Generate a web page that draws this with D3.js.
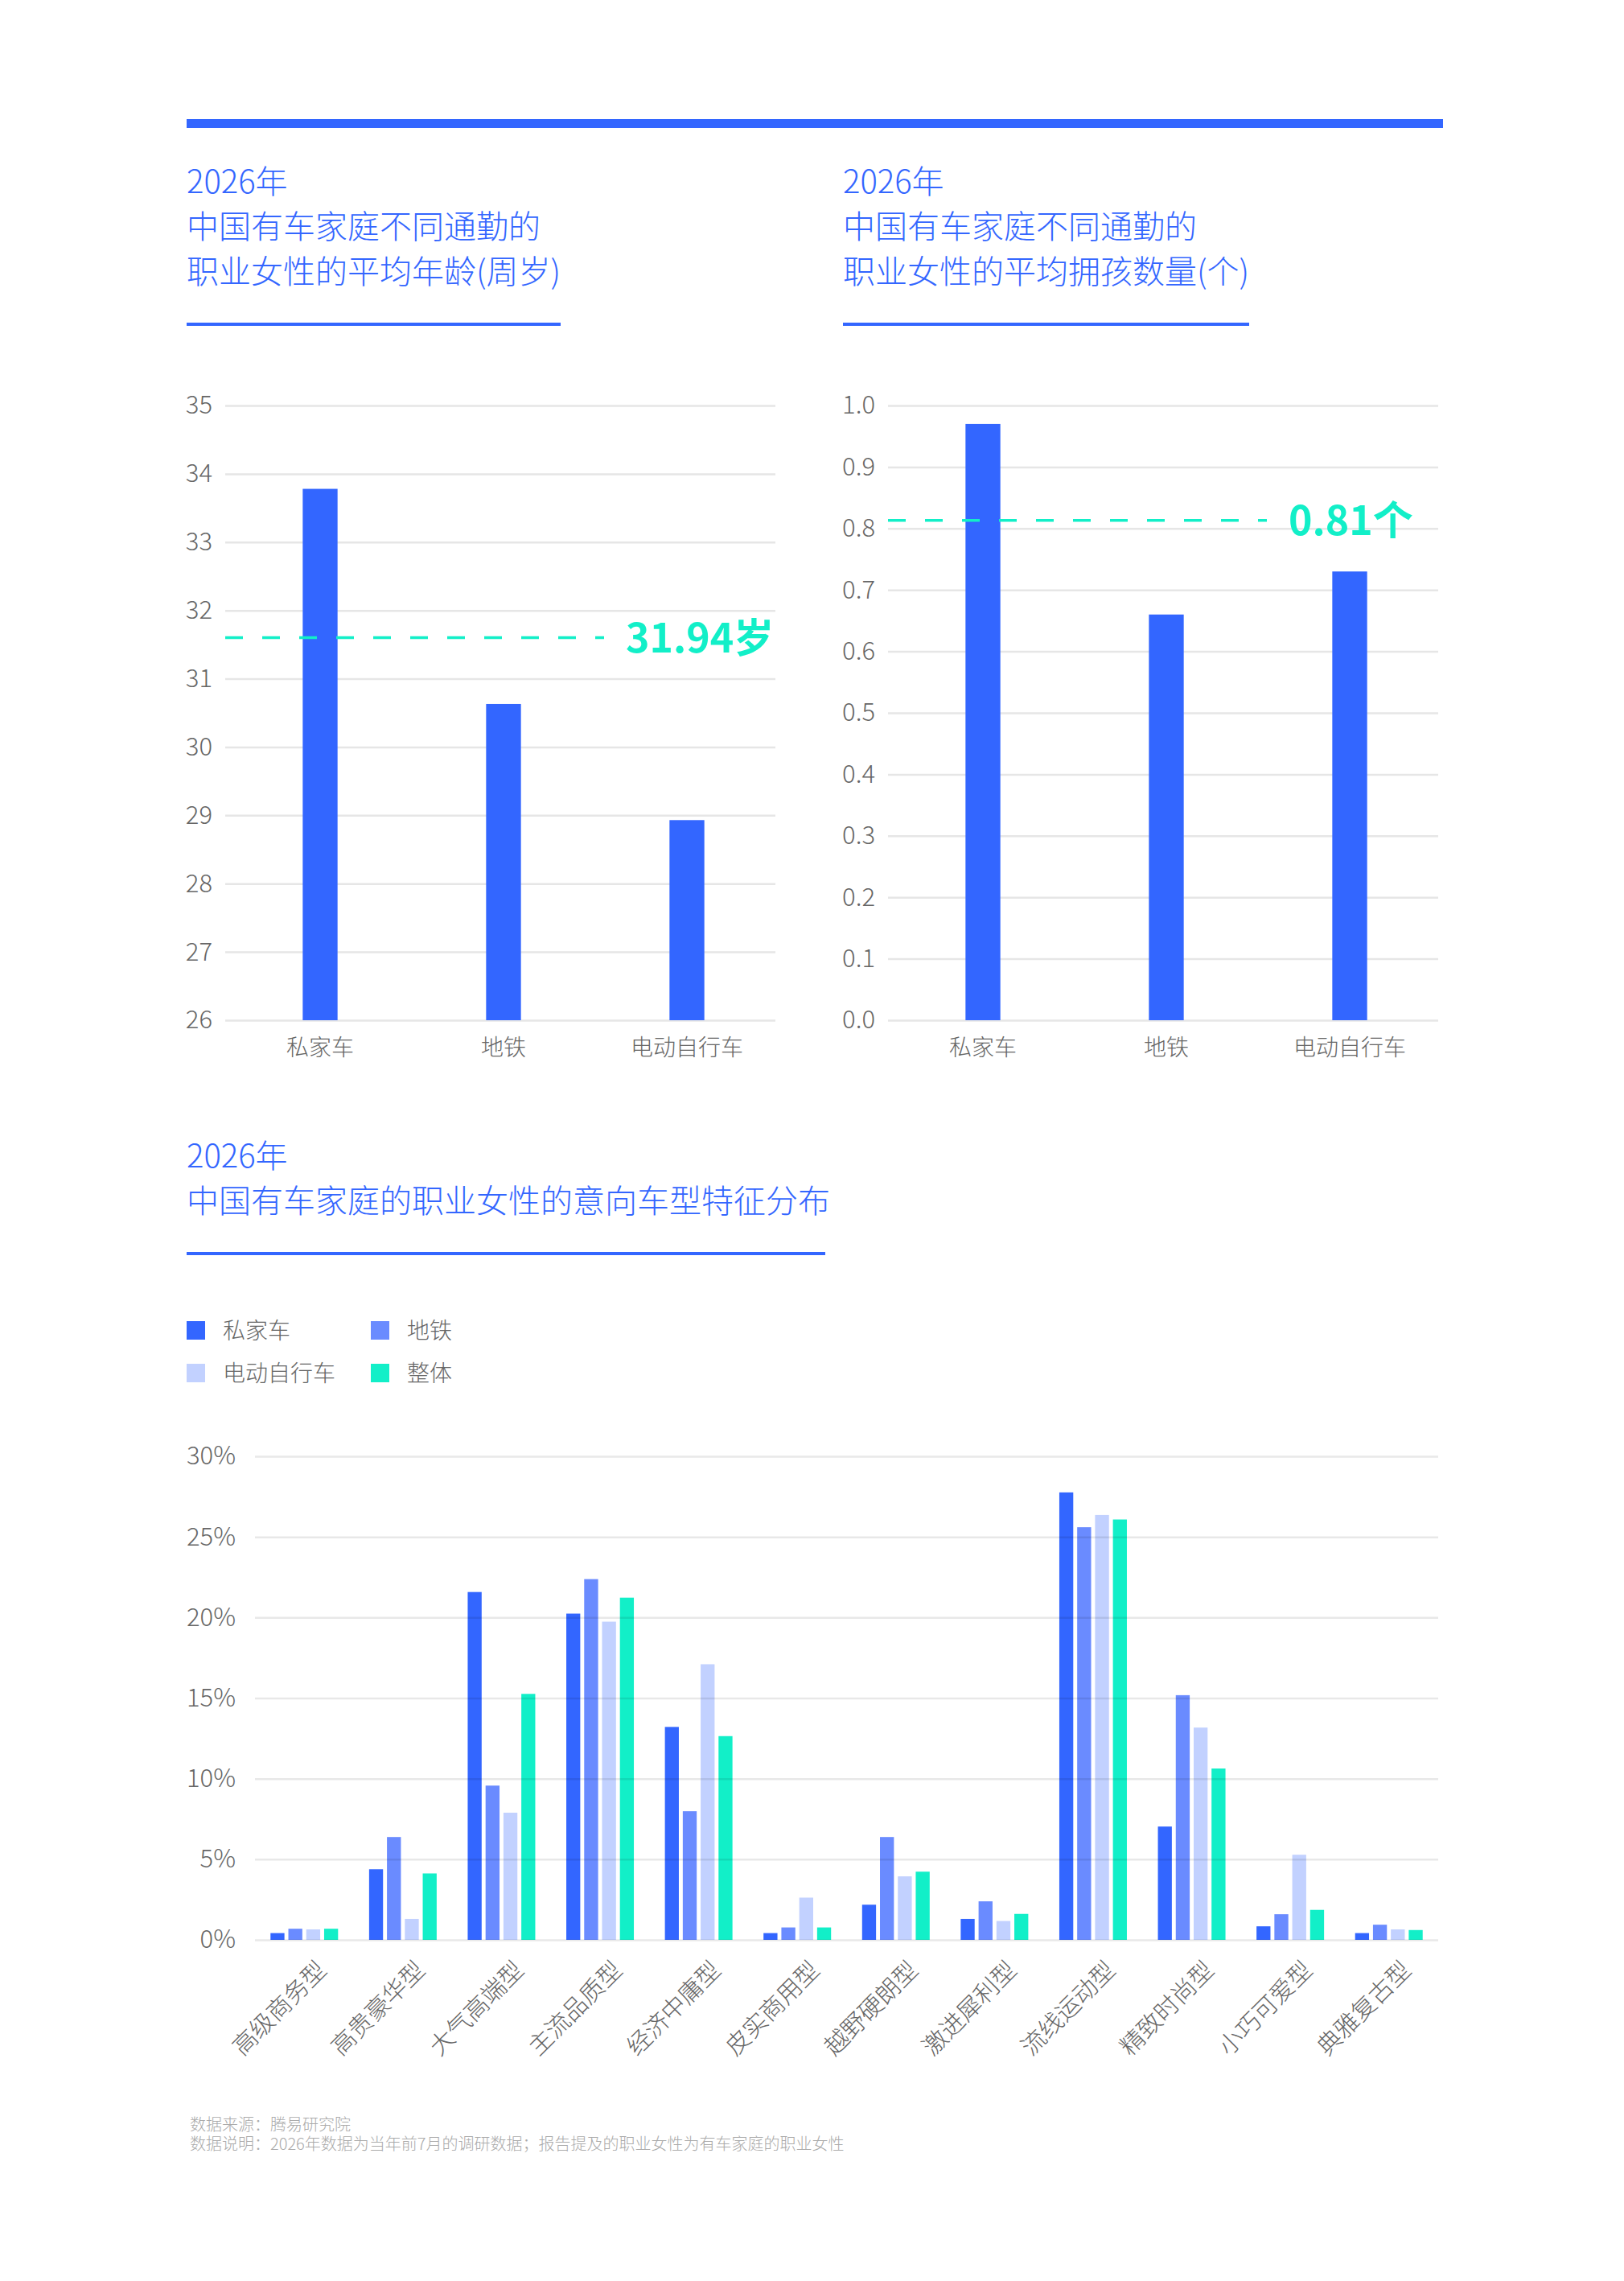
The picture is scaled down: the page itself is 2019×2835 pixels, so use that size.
<!DOCTYPE html>
<html>
<head>
<meta charset="utf-8">
<script src="https://cdn.jsdelivr.net/npm/d3@7"></script>
<style>
  html, body { margin: 0; padding: 0; background: #fff; }
  svg text { font-family: "Noto Sans CJK SC", "Noto Sans", sans-serif; }
</style>
</head>
<body>
<div id="chart"></div>
<script>
// ---- data ----
var commuteCats = ["私家车", "地铁", "电动自行车"];
var ageValues = [33.78, 30.63, 28.93];
var ageTicks = [26, 27, 28, 29, 30, 31, 32, 33, 34, 35];
var ageAvg = 31.94;
var ageAvgLineAt = 31.6;   // the dashed line sits here in the picture
var kidValues = [0.97, 0.66, 0.73];
var kidTicks = [0, 0.1, 0.2, 0.3, 0.4, 0.5, 0.6, 0.7, 0.8, 0.9, 1.0];
var kidAvg = 0.81;

var styleCats = ["高级商务型", "高贵豪华型", "大气高端型", "主流品质型", "经济中庸型", "皮实商用型",
                 "越野硬朗型", "激进犀利型", "流线运动型", "精致时尚型", "小巧可爱型", "典雅复古型"];
var seriesNames = ["私家车", "地铁", "电动自行车", "整体"];
var carShare   = [0.42, 4.38, 21.58, 20.24, 13.21, 0.42, 2.18, 1.30, 27.76, 7.03, 0.84, 0.42];
var metroShare = [0.69, 6.38, 9.57, 22.38, 7.98, 0.77, 6.38, 2.39, 25.60, 15.18, 1.59, 0.94];
var ebikeShare = [0.65, 1.30, 7.89, 19.74, 17.10, 2.62, 3.94, 1.17, 26.36, 13.17, 5.28, 0.65];
var allShare   = [0.69, 4.12, 15.26, 21.23, 12.64, 0.77, 4.23, 1.61, 26.08, 10.63, 1.86, 0.61];
var shareTicks = [0, 5, 10, 15, 20, 25, 30];

var titles = [
  ["2026年", "中国有车家庭不同通勤的", "职业女性的平均年龄(周岁)"],
  ["2026年", "中国有车家庭不同通勤的", "职业女性的平均拥孩数量(个)"],
  ["2026年", "中国有车家庭的职业女性的意向车型特征分布"]
];
var notes = ["数据来源：腾易研究院", "数据说明：2026年数据为当年前7月的调研数据；报告提及的职业女性为有车家庭的职业女性"];

// ---- style ----
var BLUE = "#3366ff", TEAL = "#12efc8", GRID = "#e6e6e6", LABEL = "#666";
var seriesColors = [BLUE, "#6a8bff", "#c2d1ff", TEAL];

var W = 2019, H = 2835;
var svg = d3.select("#chart").append("svg")
  .attr("width", W).attr("height", H)
  .attr("viewBox", "0 0 " + W + " " + H);

svg.append("rect").attr("width", W).attr("height", H).attr("fill", "#fff");

// top bar
svg.append("rect").attr("x", 232).attr("y", 148).attr("width", 1562).attr("height", 11).attr("fill", BLUE);

function drawTitle(lines, x, y0, lineH, underlineW, underlineY) {
  var t = svg.append("text").attr("fill", BLUE).attr("font-size", 40).attr("font-weight", 300);
  lines.forEach(function(s, i) {
    t.append("tspan").attr("x", x).attr("y", y0 + i * lineH).text(s);
  });
  svg.append("rect").attr("x", x).attr("y", underlineY).attr("width", underlineW).attr("height", 4).attr("fill", BLUE);
}

drawTitle(titles[0], 232, 240, 56, 465, 401);
drawTitle(titles[1], 1048, 240, 56, 505, 401);
drawTitle(titles[2], 232, 1451, 56, 794, 1556);

// ---- small bar charts ----
function smallChart(opts) {
  var g = svg.append("g");
  var x = d3.scaleBand().domain(commuteCats).range([opts.left + 4, opts.right + 4]).padding(0);
  var y = d3.scaleLinear().domain(opts.domain).range([1268, 504]);

  var yAxis = d3.axisLeft(y).tickValues(opts.ticks).tickFormat(opts.fmt)
    .tickSize(-(opts.right - opts.left)).tickPadding(16);
  var ya = g.append("g").attr("transform", "translate(" + opts.left + ",0)").call(yAxis);
  ya.select(".domain").remove();
  ya.selectAll("line").attr("stroke", GRID).attr("stroke-width", 2.5);
  ya.selectAll("text").attr("fill", LABEL).attr("font-size", 31).attr("font-weight", 300)
    .attr("font-family", "'Noto Sans CJK SC', sans-serif");

  var barW = x.bandwidth() * 0.19;
  g.selectAll(".bar").data(opts.values).enter().append("rect")
    .attr("x", function(d, i) { return x(commuteCats[i]) + x.bandwidth() / 2 - barW / 2; })
    .attr("y", function(d) { return y(d); })
    .attr("width", barW)
    .attr("height", function(d) { return y(opts.domain[0]) - y(d); })
    .attr("fill", BLUE);

  var xAxis = d3.axisBottom(x).tickSize(0).tickPadding(24);
  var xa = g.append("g").attr("transform", "translate(0,1268)").call(xAxis);
  xa.select(".domain").remove();
  xa.selectAll("text").attr("fill", LABEL).attr("font-size", 28).attr("font-weight", 300)
    .attr("font-family", "'Noto Sans CJK SC', sans-serif");

  // average marker
  var ly = y(opts.lineAt);
  g.append("text")
    .attr("x", opts.right - 186).attr("y", ly).attr("dy", "0.36em")
    .attr("fill", TEAL).attr("font-size", 50).attr("font-weight", 700)
    .text(opts.label);
  g.append("line")
    .attr("x1", opts.left).attr("x2", opts.right - 213)
    .attr("y1", ly).attr("y2", ly)
    .attr("stroke", TEAL).attr("stroke-width", 3.5).attr("stroke-dasharray", "22,24");
}

smallChart({ left: 280, right: 964, domain: [26, 35], ticks: ageTicks, values: ageValues,
  fmt: d3.format("d"), lineAt: ageAvgLineAt, label: ageAvg + "岁" });
smallChart({ left: 1104, right: 1788, domain: [0, 1], ticks: kidTicks, values: kidValues,
  fmt: d3.format(".1f"), lineAt: kidAvg + 0.003, label: kidAvg + "个" });

// ---- legend ----
var legendPos = [[232, 1642], [461, 1642], [232, 1695], [461, 1695]];
var lg = svg.append("g");
seriesNames.forEach(function(n, i) {
  lg.append("rect").attr("x", legendPos[i][0]).attr("y", legendPos[i][1]).attr("width", 23).attr("height", 23)
    .attr("fill", seriesColors[i]);
  lg.append("text").attr("x", legendPos[i][0] + 45).attr("y", legendPos[i][1] + 12).attr("dy", "0.35em")
    .attr("fill", LABEL).attr("font-size", 28).attr("font-weight", 300).text(n);
});

// ---- grouped bar chart ----
var series = [carShare, metroShare, ebikeShare, allShare];
var L = 317, R = 1788, T = 1810, B = 2411;
var x0 = d3.scaleBand().domain(styleCats).range([L, R]).padding(0);
var x1 = d3.scaleBand().domain(seriesNames).range([0, 84]).paddingInner(0.22);
var y3 = d3.scaleLinear().domain([0, 30]).range([B, T]);

var g3 = svg.append("g");
var groups = g3.selectAll(".grp").data(styleCats).enter().append("g")
  .attr("transform", function(d) { return "translate(" + (x0(d) + x0.bandwidth() / 2 - 42) + ",0)"; });
groups.selectAll("rect")
  .data(function(d, i) { return series.map(function(s, k) { return { k: k, v: s[i] }; }); })
  .enter().append("rect")
  .attr("x", function(d) { return x1(seriesNames[d.k]); })
  .attr("y", function(d) { return y3(d.v); })
  .attr("width", x1.bandwidth())
  .attr("height", function(d) { return B - y3(d.v); })
  .attr("fill", function(d) { return seriesColors[d.k]; });

var y3Axis = d3.axisLeft(y3).tickValues(shareTicks).tickFormat(function(d) { return d + "%"; })
  .tickSize(-(R - L)).tickPadding(24);
var y3a = g3.append("g").attr("transform", "translate(" + L + ",0)").call(y3Axis);
y3a.select(".domain").remove();
y3a.selectAll("line").attr("stroke", "rgba(0,0,0,0.09)").attr("stroke-width", 2.5);
y3a.selectAll("text").attr("fill", LABEL).attr("font-size", 31).attr("font-weight", 300)
  .attr("font-family", "'Noto Sans CJK SC', sans-serif");

var x3Axis = d3.axisBottom(x0).tickSize(0).tickPadding(0);
var x3a = g3.append("g").attr("transform", "translate(0," + B + ")").call(x3Axis);
x3a.select(".domain").remove();
x3a.selectAll("text")
  .attr("fill", LABEL).attr("font-size", 30).attr("font-weight", 300)
  .attr("font-family", "'Noto Sans CJK SC', sans-serif")
  .attr("text-anchor", "end")
  .attr("transform", "translate(22,32) rotate(-45)")
  .attr("dy", "0.35em").attr("y", 0);

// ---- notes ----
var nt = svg.append("text").attr("fill", "#aaa").attr("font-size", 20).attr("font-weight", 300);
notes.forEach(function(s, i) {
  nt.append("tspan").attr("x", 236).attr("y", 2648 + i * 24).text(s);
});
</script>
</body>
</html>
